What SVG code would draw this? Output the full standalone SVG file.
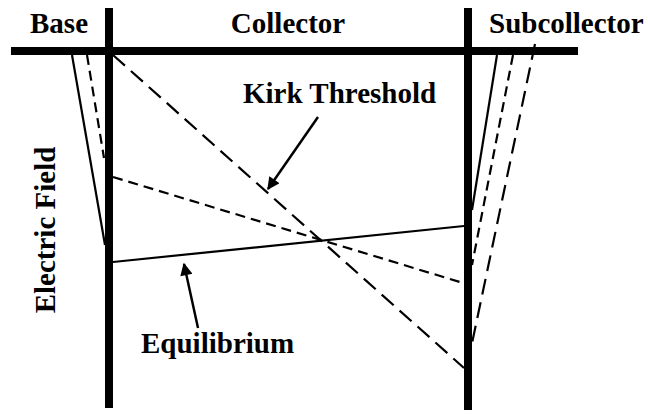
<svg xmlns="http://www.w3.org/2000/svg" width="648" height="414" viewBox="0 0 648 414">
<style>
.t{font-family:'Liberation Serif','Times New Roman',serif;font-weight:bold;font-size:29px;fill:#000}
.axis{stroke:#000;stroke-width:8;fill:none}
.solid{stroke:#000;stroke-width:2.2;fill:none}
.short{stroke:#000;stroke-width:2.2;fill:none;stroke-dasharray:10 6}
.long{stroke:#000;stroke-width:2.2;fill:none;stroke-dasharray:16 8}
.arrow{stroke:#000;stroke-width:2.5;fill:none;marker-end:url(#ah)}
</style>
<defs>
<marker id="ah" viewBox="0 0 10 10" refX="9" refY="5" markerWidth="6" markerHeight="5" orient="auto" markerUnits="strokeWidth">
<path d="M0,0 L10,5 L0,10 z" fill="#000"/>
</marker>
</defs>
<rect width="648" height="414" fill="#fff"/>
<g id="axes">
<line class="axis" x1="11" y1="51" x2="578" y2="51"/>
<line class="axis" x1="109" y1="8" x2="109" y2="408"/>
<line class="axis" x1="468" y1="8" x2="468" y2="410"/>
</g>
<g id="connectors">
<line class="solid" x1="113" y1="262" x2="464" y2="226"/>
<line class="solid" x1="72" y1="55" x2="105" y2="245"/>
<line class="solid" x1="497" y1="55" x2="472" y2="210"/>
<line class="short" x1="113" y1="177" x2="460" y2="282"/>
<line class="short" x1="87" y1="55" x2="104" y2="158"/>
<line class="short" x1="513" y1="55" x2="472" y2="265"/>
<line class="long" x1="113" y1="55" x2="464" y2="368"/>
<line class="long" x1="535" y1="44" x2="471" y2="348"/>
<line class="arrow" x1="318" y1="117" x2="268" y2="189"/>
<line class="arrow" x1="198" y1="328" x2="184" y2="264"/>
</g>
<g id="labels">
<text class="t" x="59" y="33" text-anchor="middle">Base</text>
<text class="t" x="288" y="33" text-anchor="middle">Collector</text>
<text class="t" x="489" y="33">Subcollector</text>
<text class="t" x="243" y="103">Kirk Threshold</text>
<text class="t" x="141" y="353">Equilibrium</text>
<text class="t" transform="translate(55,230) rotate(-90)" text-anchor="middle">Electric Field</text>
</g>
</svg>
